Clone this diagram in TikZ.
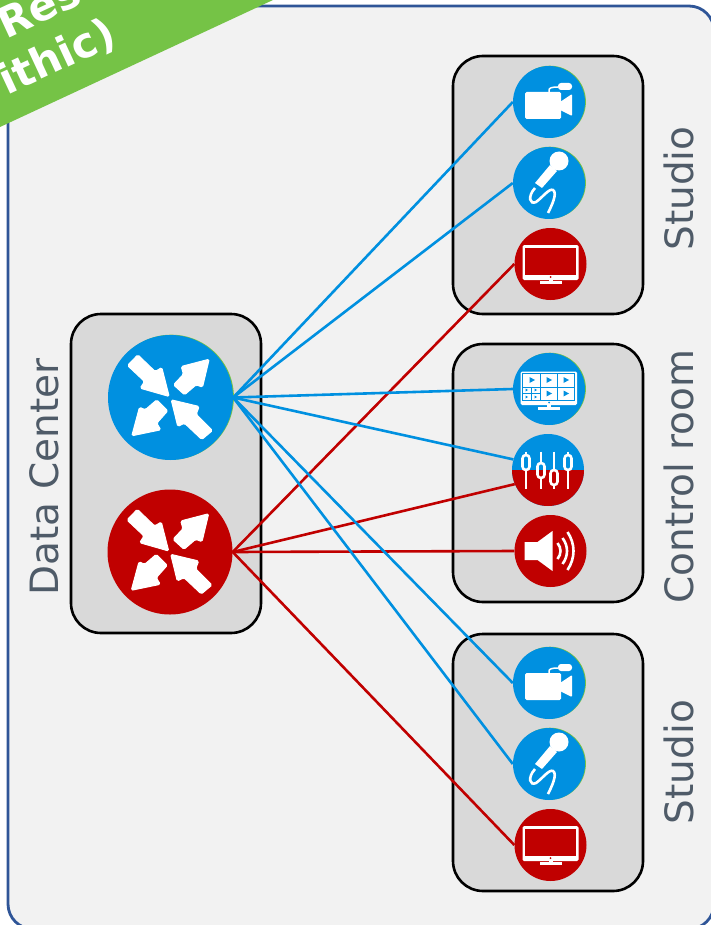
\documentclass[tikz,border=0pt]{standalone}
\usepackage{fontspec}
\setmainfont{DejaVu Sans}
\definecolor{framecolor}{HTML}{2F5597}
\definecolor{panelcolor}{HTML}{F2F2F2}
\definecolor{boxcolor}{HTML}{D9D9D9}
\definecolor{bannercolor}{HTML}{75C346}
\definecolor{videoblue}{HTML}{0090E0}
\definecolor{audiored}{HTML}{C00000}
\definecolor{labelcolor}{HTML}{4F5B68}

\tikzset{
  roombox/.style = {draw = black, line width = 2.6pt, fill = boxcolor, rounded corners = 30pt},
  roomlabel/.style = {color = labelcolor, font = \fontsize{39}{39}\selectfont, rotate = 90},
  bannertext/.style = {color = white, font = \fontsize{42}{42}\bfseries\selectfont, rotate = 25},
  hubdisk/.style = {circle, minimum size = 125pt, inner sep = 0pt},
  icondisk/.style = {circle, minimum size = 72pt, inner sep = 0pt},
  bluedisk/.style = {fill = videoblue,
    preaction = {fill = bannercolor, transform canvas = {xshift = 0.9pt, yshift = 0.3pt}}},
  reddisk/.style = {fill = audiored},
  videolink/.style = {draw = videoblue, line width = 2.6pt},
  audiolink/.style = {draw = audiored, line width = 2.6pt},
  whiteline/.style = {draw = white, line width = 2.6pt},
  arrowshape/.style = {fill = white, draw = white, line width = 1pt, rounded corners = 1.5pt},
  pics/hubarrows/.style = {code = {
    \draw[arrowshape]
      (-43, -32) -- (-32.7, -42.7) -- (-15.3, -26) -- (-8.7, -30) -- (-1.3, -1)
      -- (-30.3, -9.3) -- (-26, -16) -- cycle;
    \draw[arrowshape]
      (38.7, -38.3) -- (32, -10.3) -- (25.7, -12.7) -- (14, -2.7) -- (3, -12.7)
      -- (13, -23.3) -- (10.7, -31) -- cycle;
    \draw[arrowshape]
      (-38.7, 38.3) -- (-31, 9.7) -- (-25.3, 12.3) -- (-13.7, 2.3) -- (-2.7, 13.3)
      -- (-13.7, 25.7) -- (-9.7, 32.3) -- cycle;
    \draw[arrowshape]
      (0.7, 2.3) -- (28.7, 9) -- (25.7, 16.7) -- (42, 33) -- (31.3, 42)
      -- (14, 25.7) -- (7.3, 29) -- cycle;
  }},
  pics/cameraicon/.style = {code = {
    \fill[white, rounded corners = 1.5pt] (-24, -10) rectangle (12, 17);
    \fill[white, rounded corners = 1pt] (11, 0) -- (23, -8) -- (23, 14) -- (11, 8) -- cycle;
    \draw[white, line width = 1.5pt] (0, -10) -- (0, -12) .. controls (0, -14) and (3, -15) .. (9, -15);
    \fill[white, rounded corners = 3pt] (9, -19) rectangle (23, -12);
  }},
  pics/micicon/.style = {code = {
    \fill[white] (10, -22) circle [radius = 9.5];
    \fill[white] (1, -18) -- (8, -12) -- (-7, 5) -- (-14, 0) -- cycle;
    \draw[whiteline]
      (-14, 5) .. controls (-22, 14) and (-19, 22) .. (-13, 19)
      .. controls (-7, 15) and (0, 5) .. (4, 7)
      .. controls (9, 10) and (2, 24) .. (-1, 30);
  }},
  pics/screenicon/.style = {code = {
    \fill[white, rounded corners = 1.5pt] (-28, -19) rectangle (28, 16);
    \fill[audiored] (-25.5, -16.5) rectangle (25.5, 11);
    \fill[audiored] (0, 13) circle [radius = 1];
    \fill[white] (-2, 15) rectangle (2, 18);
    \fill[white] (-11, 17) rectangle (11, 20);
  }},
  pics/multiviewicon/.style = {code = {
    \fill[white, rounded corners = 1.5pt] (-28.5, -17.5) rectangle (28, 16);
    \draw[videoblue, line width = 0.8pt] (-26.5, -15.5) rectangle (25.5, 11.5);
    \draw[videoblue, line width = 0.8pt]
      (-9, -15.5) -- (-9, 11.5) (8, -15.5) -- (8, 11.5) (-26.5, -2) -- (25.5, -2)
      (-18, -2) -- (-18, 11.5) (-26.5, 4.5) -- (-9, 4.5);
    \foreach \cellx/\celly in {-18/-9, -1/-9, 16/-9, -1/4.5, 16/4.5} {
      \fill[videoblue] (\cellx - 1.5, \celly - 3) -- (\cellx + 4, \celly) -- (\cellx - 1.5, \celly + 3) -- cycle;
    }
    \foreach \cellx/\celly in {-22.5/1, -13.5/1, -22.5/8, -13.5/8} {
      \fill[videoblue] (\cellx - 1, \celly - 1.5) -- (\cellx + 1.5, \celly) -- (\cellx - 1, \celly + 1.5) -- cycle;
    }
    \fill[videoblue] (0, 13.5) circle [radius = 1];
    \fill[white] (-2, 16) rectangle (2, 19);
    \fill[white] (-11, 18) rectangle (11, 20.5);
  }},
  pics/mixericon/.style = {code = {
    \foreach \sliderx/\knoby in {-22/-7.5, -7/0.5, 6/7.5, 20/-7.5} {
      \draw[whiteline] (\sliderx, -18.5) -- (\sliderx, \knoby - 7.5);
      \draw[whiteline] (\sliderx, \knoby + 7.5) -- (\sliderx, 18.5);
      \draw[whiteline, rounded corners = 3.4pt]
        (\sliderx - 3.5, \knoby - 7.5) rectangle (\sliderx + 3.5, \knoby + 7.5);
    }
  }},
  pics/speakericon/.style = {code = {
    \fill[white] (-26, -9) -- (-13, -9) -- (2, -20) -- (2, 20) -- (-13, 9) -- (-26, 9) -- cycle;
    \draw[whiteline] (7, -8) .. controls (11, -3) and (11, 3) .. (7, 8);
    \draw[whiteline] (12, -13) .. controls (18, -5) and (18, 5) .. (12, 13);
    \draw[whiteline] (17, -19) .. controls (25, -7) and (25, 7) .. (17, 19);
  }}
}

\begin{document}
\begin{tikzpicture}[x = 1pt, y = -1pt]
    \path[use as bounding box, clip] (0, 0) rectangle (711, 925);

    \draw[draw = framecolor, line width = 2.8pt, fill = panelcolor, rounded corners = 25pt]
      (8, 6) rectangle (714, 929);

    \fill[bannercolor] (0, 0) -- (273, 0) -- (0, 127) -- cycle;
    \node[bannertext, anchor = base west] (bannertop) at (3, 41) {Res};
    \node[bannertext, anchor = base east] (bannerbottom) at (122, 42) {ithic)};

    \draw[roombox] (453, 56) rectangle (643, 314);
    \draw[roombox] (453, 344) rectangle (643, 602);
    \draw[roombox] (453, 634) rectangle (643, 891);
    \draw[roombox] (71, 314) rectangle (261, 633);

    \node[roomlabel] (datalabel) at (44, 477) {Data Center};
    \node[roomlabel] (studiotoplabel) at (678.5, 188.5) {Studio};
    \node[roomlabel] (controllabel) at (678.5, 476.5) {Control room};
    \node[roomlabel] (studiobottomlabel) at (678.5, 762) {Studio};

    \node[hubdisk, bluedisk] (hubblue) at (170.5, 397.5) {};
    \node[hubdisk, reddisk] (hubred) at (170, 552) {};
    \pic at (hubblue) {hubarrows};
    \pic at (hubred) {hubarrows};

    \node[icondisk, bluedisk] (cameratop) at (549, 102) {};
    \node[icondisk, bluedisk] (mictop) at (549, 183) {};
    \node[icondisk, reddisk] (screentop) at (550.5, 264) {};
    \node[icondisk, bluedisk] (multiview) at (549, 389) {};
    \node[icondisk, fill = videoblue,
      path picture = {\fill[audiored] (path picture bounding box.west) rectangle (path picture bounding box.south east);}]
      (mixer) at (548, 470) {};
    \node[icondisk, reddisk] (speaker) at (550.5, 551) {};
    \node[icondisk, bluedisk] (camerabottom) at (549, 683) {};
    \node[icondisk, bluedisk] (micbottom) at (549, 764) {};
    \node[icondisk, reddisk] (screenbottom) at (550.5, 845) {};

    \pic at (cameratop) {cameraicon};
    \pic at (mictop) {micicon};
    \pic at (screentop) {screenicon};
    \pic at (multiview) {multiviewicon};
    \pic at (mixer) {mixericon};
    \pic at (speaker) {speakericon};
    \pic at (camerabottom) {cameraicon};
    \pic at (micbottom) {micicon};
    \pic at (screenbottom) {screenicon};

    \draw[audiolink] (hubred.east) -- (screentop.west);
    \draw[audiolink] (hubred.east) -- (mixer.203);
    \draw[audiolink] (hubred.east) -- (speaker.west);
    \draw[audiolink] (hubred.east) -- (screenbottom.west);
    \draw[videolink] (hubblue.east) -- (cameratop.west);
    \draw[videolink] (hubblue.east) -- (mictop.west);
    \draw[videolink] (hubblue.east) -- (multiview.west);
    \draw[videolink] (hubblue.east) -- (mixer.163);
    \draw[videolink] (hubblue.east) -- (camerabottom.west);
    \draw[videolink] (hubblue.east) -- (micbottom.west);
  \end{tikzpicture}
\end{document}
